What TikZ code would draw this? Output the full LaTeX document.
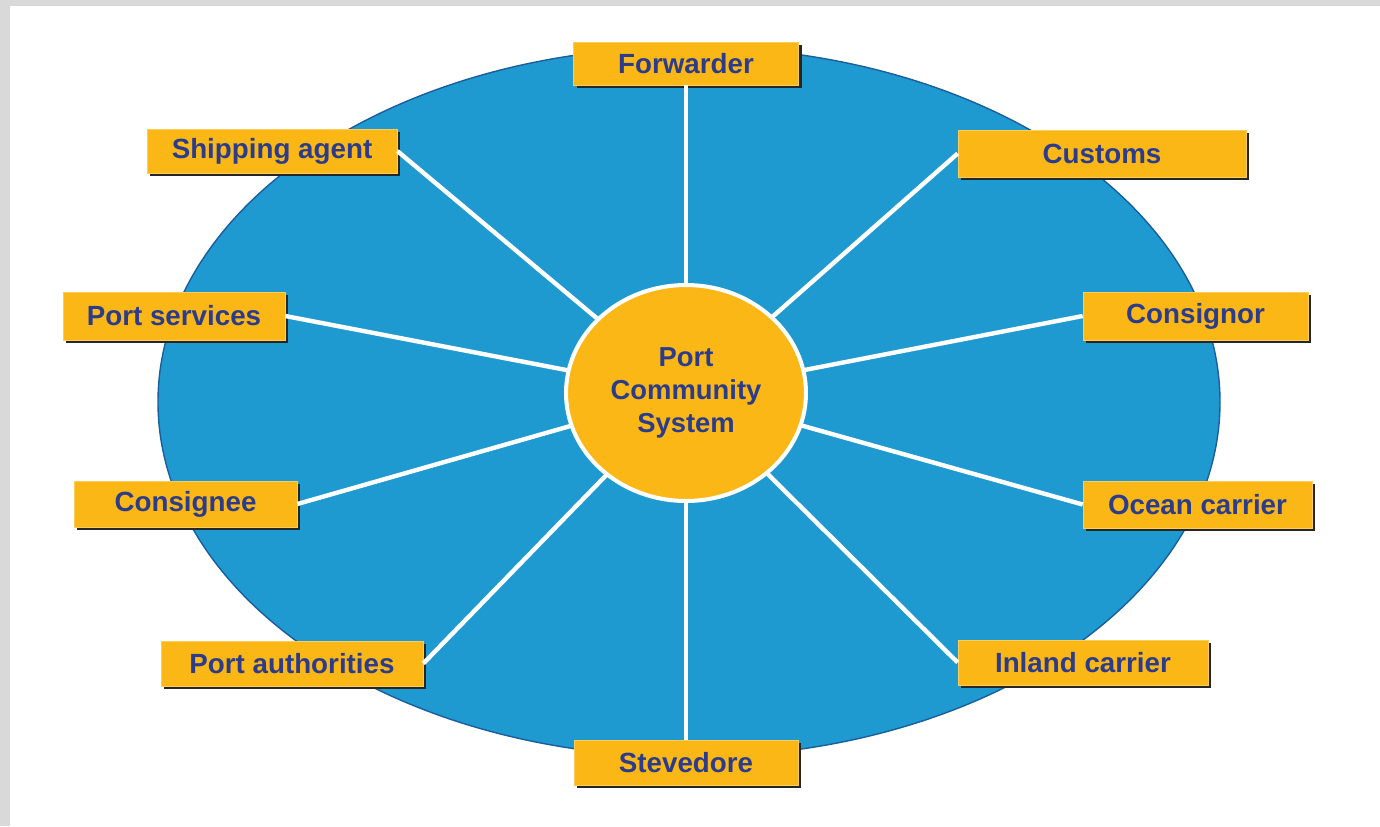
\documentclass[tikz,border=0pt]{standalone}
\usepackage{fontspec}
\setmainfont{Liberation Sans}
\usetikzlibrary{shapes.geometric,shadows}
\definecolor{pcsblue}{HTML}{1E9AD0}
\definecolor{pcsedge}{HTML}{1A5E9E}
\definecolor{pcsorange}{HTML}{FBB715}
\definecolor{pcstext}{HTML}{2C3C8C}
\definecolor{framegray}{HTML}{D9D9D9}
\tikzset{
  pbox/.style={rectangle, fill=pcsorange, draw=pcsorange!70!white, line width=0.4pt,
    text=pcstext, font=\fontsize{15.8}{19}\selectfont\bfseries, inner sep=0pt,
    drop shadow={shadow xshift=1.8pt, shadow yshift=-1.8pt, fill=black!85, opacity=1}},
  spoke/.style={draw=white, line width=2.5pt},
}
\begin{document}
\begin{tikzpicture}[x=0.02cm, y=-0.02cm]
\useasboundingbox (0,0) rectangle (1380,826);
\fill[framegray] (0,0) rectangle (1380,826);
\fill[white] (10,6) rectangle (1380,826);
% big ellipse
\draw[fill=pcsblue, draw=pcsedge, line width=0.8pt] (689,402) ellipse [x radius=531, y radius=355];
\coordinate (c) at (686,393);
% boxes
\node[pbox, minimum width=4.5cm, minimum height=0.86cm] (fwd) at (686,63.5) {Forwarder};
\node[pbox, minimum width=5.0cm, minimum height=0.88cm] (ship) at (272,151) {Shipping agent};
\node[pbox, minimum width=5.76cm, minimum height=0.94cm] (cust) at (1102,153.5) {Customs};
\node[pbox, minimum width=4.44cm, minimum height=0.96cm] (psv) at (174,316) {Port services};
\node[pbox, minimum width=4.5cm, minimum height=0.96cm] (cnor) at (1195.5,316) {Consignor};
\node[pbox, minimum width=4.46cm, minimum height=0.92cm] (cnee) at (185.5,504) {Consignee};
\node[pbox, minimum width=4.58cm, minimum height=0.94cm] (ocean) at (1197.5,504.5) {Ocean carrier};
\node[pbox, minimum width=5.24cm, minimum height=0.9cm] (pauth) at (292,663.5) {Port authorities};
\node[pbox, minimum width=5.0cm, minimum height=0.9cm] (inland) at (1083,662.5) {Inland carrier};
\node[pbox, minimum width=4.48cm, minimum height=0.9cm] (stev) at (686,762.5) {Stevedore};
% spokes
\draw[spoke] (c) -- (fwd.south);
\draw[spoke] (c) -- (ship.east);
\draw[spoke] (c) -- (cust.west);
\draw[spoke] (c) -- (psv.east);
\draw[spoke] (c) -- (cnor.west);
\draw[spoke] (c) -- (cnee.east);
\draw[spoke] (c) -- (ocean.west);
\draw[spoke] (c) -- (pauth.east);
\draw[spoke] (c) -- (inland.west);
\draw[spoke] (c) -- (stev.north);
% centre
\node[ellipse, fill=pcsorange, draw=white, line width=2.3pt, minimum width=4.8cm, minimum height=4.32cm,
  inner sep=0pt, align=center, text=pcstext, font=\fontsize{15.6}{18.8}\selectfont\bfseries] (pcs) at (c)
  {Port\\Community\\System};
\end{tikzpicture}
\end{document}
